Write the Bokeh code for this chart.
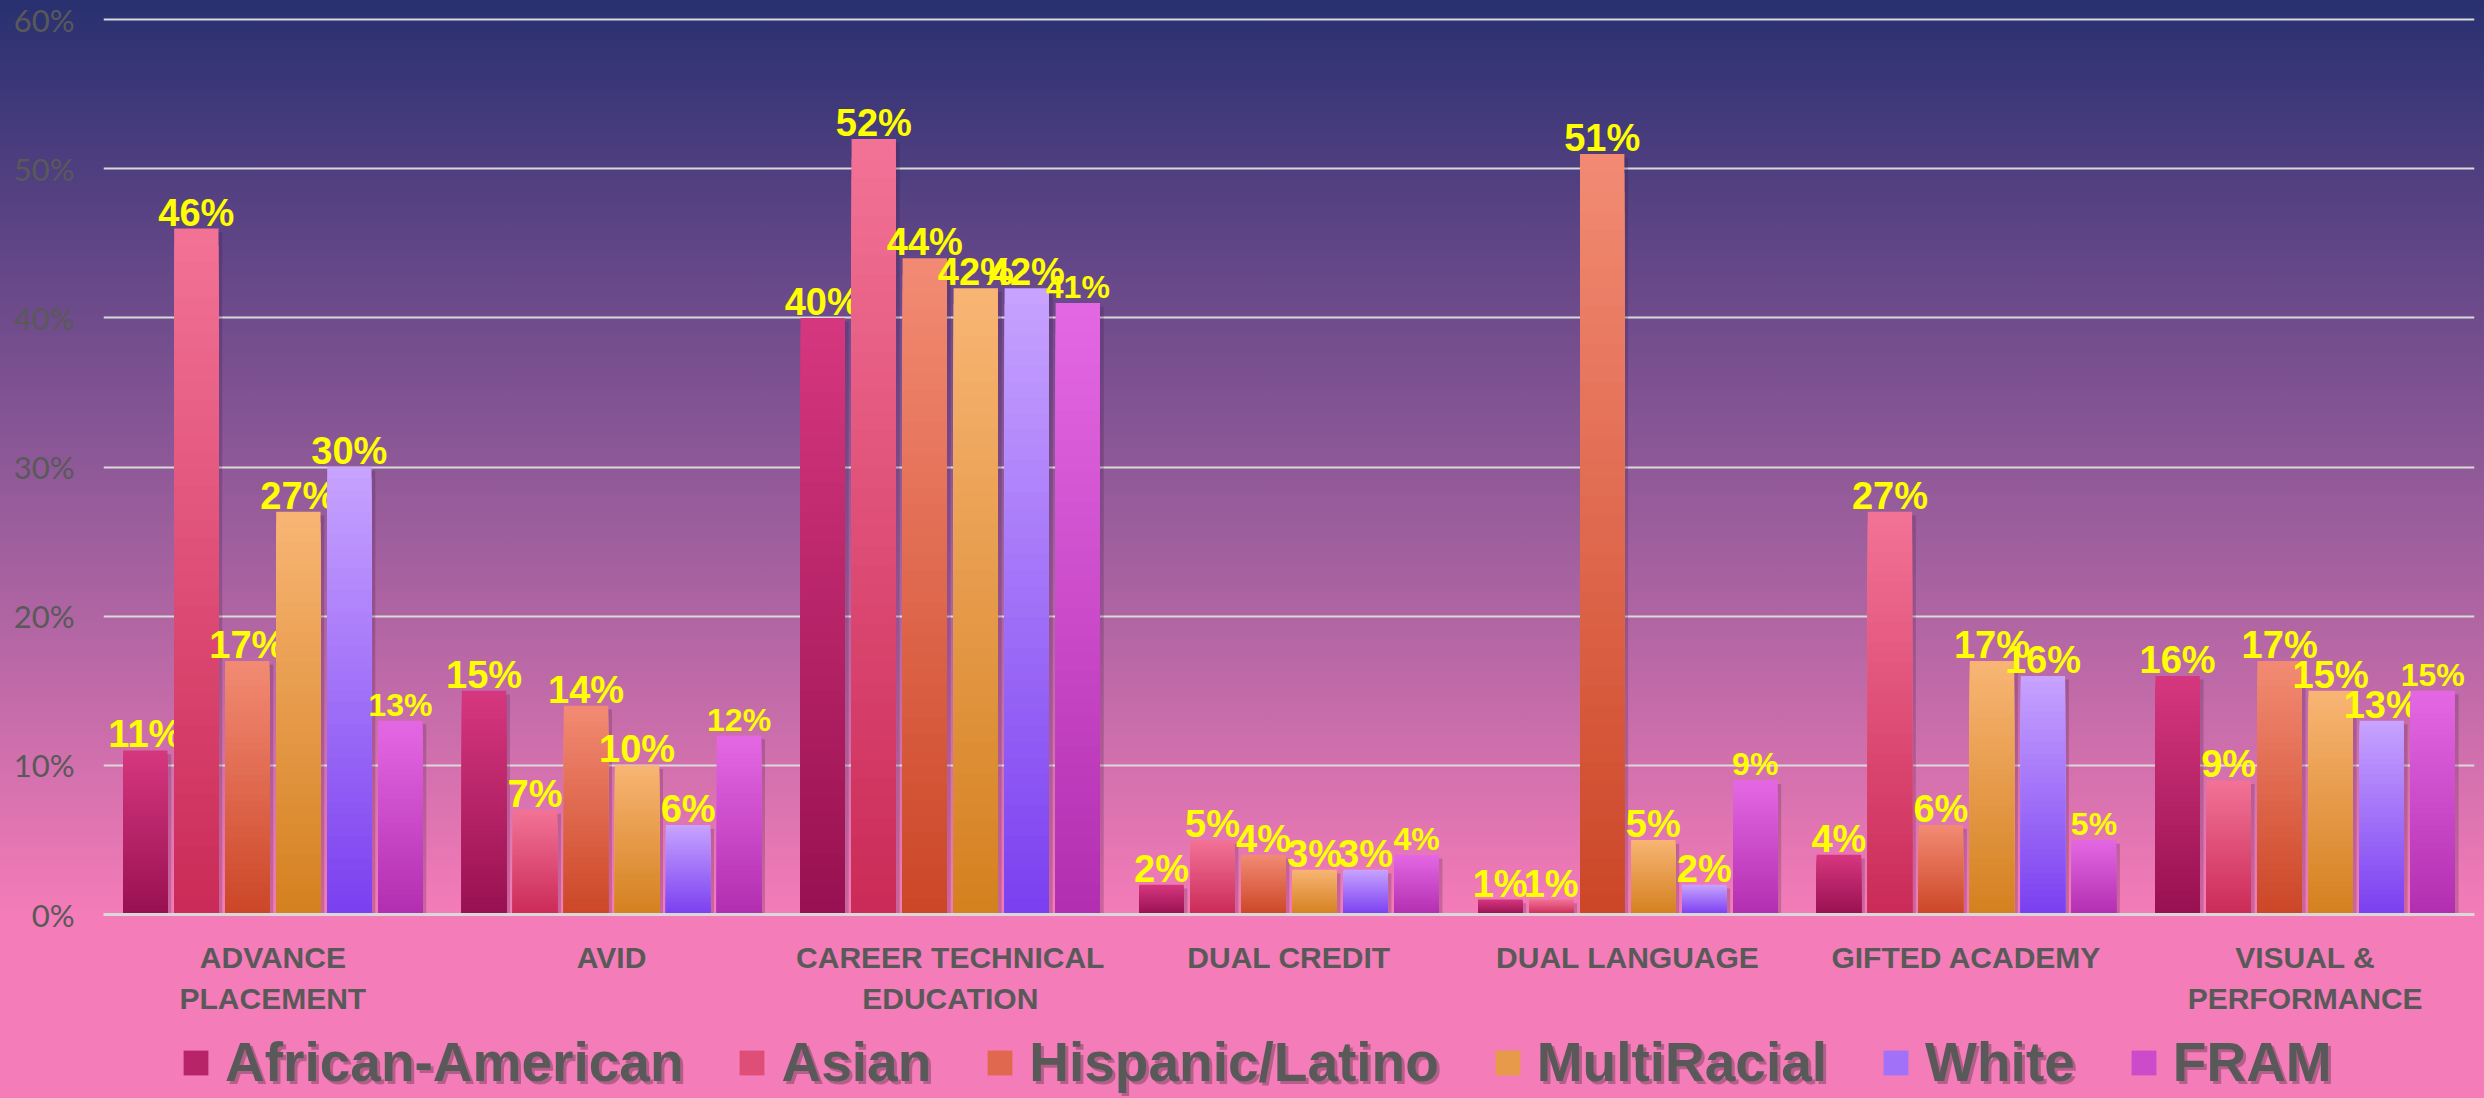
import numpy as np
from bokeh.plotting import figure
from bokeh.layouts import column
from bokeh.models import (ColumnDataSource, FactorRange, Range1d, FixedTicker, CategoricalAxis,
                          PrintfTickFormatter, CustomJSTickFormatter, Legend, LegendItem,
                          GlobalInlineStyleSheet)
from bokeh.transform import dodge
from bokeh.core.properties import value
from bokeh.embed import file_html
from bokeh.resources import INLINE

# ---------------- data ----------------
categories = ["ADVANCE PLACEMENT", "AVID", "CAREER TECHNICAL EDUCATION", "DUAL CREDIT",
              "DUAL LANGUAGE", "GIFTED ACADEMY", "VISUAL & PERFORMANCE"]
label_line1 = ["ADVANCE", "AVID", "CAREER TECHNICAL", "DUAL CREDIT",
               "DUAL LANGUAGE", "GIFTED ACADEMY", "VISUAL &"]
label_line2 = ["PLACEMENT", "", "EDUCATION", "", "", "", "PERFORMANCE"]
series_names = ["African-American", "Asian", "Hispanic/Latino", "MultiRacial", "White", "FRAM"]
african_american = [11, 15, 40, 2, 1, 4, 16]
asian = [46, 7, 52, 5, 1, 27, 9]
hispanic_latino = [17, 14, 44, 4, 51, 6, 17]
multiracial = [27, 10, 42, 3, 5, 17, 15]
white = [30, 6, 42, 3, 2, 16, 13]
fram = [13, 12, 41, 4, 9, 5, 15]
y_ticks = [0, 10, 20, 30, 40, 50, 60]

series_values = [african_american, asian, hispanic_latino, multiracial, white, fram]
# gradient colours (top, bottom) per series
top_colors = ["#d6377f", "#f27396", "#f28b74", "#f8b574", "#c8a3ff", "#e468e3"]
bottom_colors = ["#981151", "#cb2a57", "#cc4627", "#d4801f", "#7a3ff0", "#b22eb0"]
label_sizes = ["38px", "38px", "38px", "38px", "38px", "32px"]

# ---------------- main figure ----------------
p = figure(x_range=FactorRange(*categories), y_range=Range1d(0, 60.15),
           width=2484, height=1026, output_backend="svg", toolbar_location=None,
           min_border_left=103, min_border_right=10, min_border_top=17, min_border_bottom=112)
p.border_fill_color = None
p.background_fill_color = None
p.outline_line_color = None

css = GlobalInlineStyleSheet(css="""
html { background: linear-gradient(to bottom, #283070 0px, #5a4384 220px, #9a5d9c 520px,
        #f47cb8 914px, #f47cb8 1098px) fixed; min-height: 100%; overflow: hidden; }
body { background: transparent; margin: 0; overflow: hidden; }
""")
p.stylesheets = [css]

p.xgrid.grid_line_color = None
p.ygrid.grid_line_color = "#d9d9d9"
p.ygrid.grid_line_width = 2
p.yaxis.ticker = FixedTicker(ticks=y_ticks)
p.yaxis.formatter = PrintfTickFormatter(format="%d%%")
p.yaxis.axis_line_color = None
p.yaxis.major_tick_line_color = None
p.yaxis.minor_tick_line_color = None
p.yaxis.major_tick_out = 0
p.yaxis.major_label_standoff = 29
p.yaxis.major_label_text_font = "Lato"
p.yaxis.major_label_text_font_size = "31px"
p.yaxis.major_label_text_color = "#595959"

label_font = dict(major_label_text_font="Liberation Sans", major_label_text_font_style="bold",
                  major_label_text_font_size="30px", major_label_text_color="#595959")


def line_formatter(lines):
    return CustomJSTickFormatter(args=dict(cats=categories, lines=lines),
                                 code="const i = cats.indexOf(tick); return i >= 0 ? lines[i] : '';")


xa = p.xaxis[0]
xa.axis_line_color = "#d9d9d9"
xa.axis_line_width = 3
xa.major_tick_line_color = None
xa.minor_tick_line_color = None
xa.major_tick_out = 0
xa.major_tick_in = 0
xa.formatter = line_formatter(label_line1)
xa.major_label_standoff = 26
for k, v in label_font.items():
    setattr(xa, k, v)

xa2 = CategoricalAxis(axis_line_color=None, major_tick_line_color=None, minor_tick_line_color=None,
                      major_tick_out=0, major_tick_in=0, major_label_standoff=5,
                      formatter=line_formatter(label_line2), **label_font)
p.add_layout(xa2, "below")


def hex2rgb(h):
    return np.array([int(h[i:i + 2], 16) for i in (1, 3, 5)], dtype=float)


def mix(c_bottom, c_top, t):
    a, b = hex2rgb(c_bottom), hex2rgb(c_top)
    c = a + (b - a) * t
    return "#%02x%02x%02x" % tuple(int(round(v)) for v in c)


# ---------------- legend strip (second figure) ----------------
p2 = figure(width=2484, height=72, x_range=Range1d(0, 1), y_range=Range1d(0, 1),
            x_axis_type=None, y_axis_type=None, output_backend="svg", toolbar_location=None,
            min_border_left=0, min_border_right=0, min_border_top=0, min_border_bottom=0)
p2.border_fill_color = None
p2.background_fill_color = None
p2.outline_line_color = None
p2.grid.visible = False

N = 40
pitch = 0.1506
bar_w = 0.131
legend_items, shadow_items = [], []
for si, (name, vals) in enumerate(zip(series_names, series_values)):
    off = (si - 2.5) * pitch
    # shadow
    sh = ColumnDataSource(dict(cat=categories, top=[v - 0.25 for v in vals]))
    p.vbar(x=dodge("cat", off + 0.011, range=p.x_range), top="top", bottom=-0.3, width=bar_w,
           source=sh, fill_color="#3a1040", fill_alpha=0.22, line_color=None)
    # gradient layers
    cats, tops, cols = [], [], []
    for j in range(N, 0, -1):
        for c, v in zip(categories, vals):
            cats.append(c)
            tops.append(v * j / N)
            cols.append(mix(bottom_colors[si], top_colors[si], (j - 0.5) / N))
    src = ColumnDataSource(dict(cat=cats, top=tops, color=cols))
    p.vbar(x=dodge("cat", off, range=p.x_range), top="top", bottom=0, width=bar_w,
           source=src, fill_color="color", line_color=None)
    # labels
    lab = ColumnDataSource(dict(cat=categories, y=vals, text=["%d%%" % v for v in vals]))
    p.text(x=dodge("cat", off, range=p.x_range), y="y", text="text", source=lab,
           text_font=value("Liberation Sans"), text_font_style="bold",
           text_font_size=label_sizes[si], text_color="#ffff00",
           text_align="center", text_baseline="alphabetic", y_offset=-16)
    # legend proxies (outside the visible range of the strip)
    proxy = p2.vbar(x=[-5], top=[-5], bottom=[-6], width=0.1,
                    fill_color=mix(bottom_colors[si], top_colors[si], 0.5), line_color=None)
    legend_items.append(LegendItem(label=name, renderers=[proxy]))
    ghost = p2.vbar(x=[-5], top=[-5], bottom=[-6], width=0.1, fill_alpha=0, line_alpha=0)
    shadow_items.append(LegendItem(label=name, renderers=[ghost]))


def style_legend(lg, color, alpha):
    lg.orientation = "horizontal"
    lg.label_text_font = "Liberation Sans"
    lg.label_text_font_style = "bold"
    lg.label_text_font_size = "55px"
    lg.label_text_color = color
    lg.label_text_alpha = alpha
    lg.glyph_width = 31
    lg.glyph_height = 31
    lg.label_standoff = 14
    lg.spacing = 53
    lg.padding = 0
    lg.margin = 0
    lg.background_fill_alpha = 0
    lg.border_line_color = None


shadow_legend = Legend(items=shadow_items, location=(80, 1))
style_legend(shadow_legend, "#3a2a35", 0.35)
p2.add_layout(shadow_legend)

legend = Legend(items=legend_items, location=(77, 4))
style_legend(legend, "#595959", 1.0)
p2.add_layout(legend)

layout = column(p, p2, spacing=0)
open("out.html", "w").write(file_html(layout, INLINE))
